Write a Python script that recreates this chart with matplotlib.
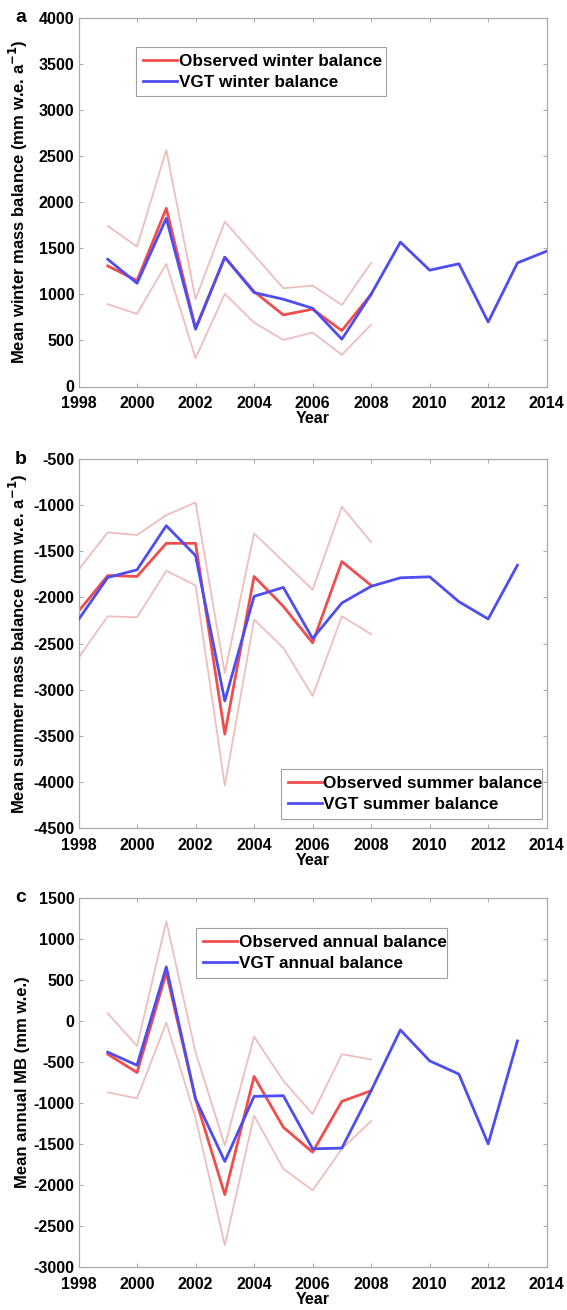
import matplotlib
matplotlib.use("Agg")
import matplotlib.pyplot as plt
import numpy as np

plt.rcParams['font.family'] = ['Liberation Sans', 'DejaVu Sans']
plt.rcParams['font.weight'] = 'bold'
plt.rcParams['axes.unicode_minus'] = False
plt.rcParams['mathtext.default'] = 'bf'

# ---------- Data ----------
years_obs = [1999, 2000, 2001, 2002, 2003, 2004, 2005, 2006, 2007, 2008]
years_vgt_a = [1999, 2000, 2001, 2002, 2003, 2004, 2005, 2006, 2007, 2008,
               2009, 2010, 2011, 2012, 2013, 2014]
winter_obs = [1307, 1148, 1931, 632, 1401, 1029, 776, 838, 606, 1000]
winter_upper = [1740, 1516, 2563, 946, 1787, 1426, 1065, 1094, 884, 1340]
winter_lower = [892, 787, 1329, 307, 1004, 693, 505, 585, 343, 670]
winter_vgt = [1379, 1119, 1823, 621, 1401, 1018, 946, 848, 513, 1000,
              1565, 1261, 1330, 699, 1340, 1467]

years_obs_b = [1998, 1999, 2000, 2001, 2002, 2003, 2004, 2005, 2006, 2007, 2008]
years_vgt_b = [1998, 1999, 2000, 2001, 2002, 2003, 2004, 2005, 2006, 2007, 2008,
               2009, 2010, 2011, 2012, 2013]
summer_obs = [-2151, -1763, -1773, -1414, -1414, -3482, -1773, -2097, -2493, -1612, -1870]
summer_upper = [-1701, -1295, -1324, -1108, -971, -2820, -1306, -1612, -1917, -1018, -1400]
summer_lower = [-2655, -2205, -2216, -1712, -1870, -4040, -2241, -2547, -3068, -2205, -2399]
summer_vgt = [-2241, -1784, -1701, -1223, -1547, -3122, -1989, -1892, -2446, -2061, -1880,
              -1788, -1777, -2047, -2234, -1651]

years_vgt_c = [1999, 2000, 2001, 2002, 2003, 2004, 2005, 2006, 2007, 2008,
               2009, 2010, 2011, 2012, 2013]
annual_obs = [-405, -628, 587, -951, -2117, -676, -1296, -1599, -980, -850]
annual_upper = [93, -304, 1215, -380, -1518, -190, -729, -1134, -405, -470]
annual_lower = [-870, -943, -20, -1180, -2733, -1154, -1802, -2065, -1560, -1220]
annual_vgt = [-380, -540, 660, -950, -1713, -919, -911, -1559, -1550, -850,
              -109, -486, -648, -1498, -243]

labels_a = ["Observed winter balance", "VGT winter balance"]
labels_b = ["Observed summer balance", "VGT summer balance"]
labels_c = ["Observed annual balance", "VGT annual balance"]

# ---------- Style ----------
RED = (0.94, 0.30, 0.30)
BLUE = (0.30, 0.30, 0.94)
PINK = (0.94, 0.74, 0.74)

W, H = 567, 1310
fig = plt.figure(figsize=(W / 100, H / 100), dpi=100)

def axpos(top_px, bottom_px, left_px=78.5, right_px=546.7):
    return [left_px / W, 1 - bottom_px / H, (right_px - left_px) / W, (bottom_px - top_px) / H]

panels = [
    dict(pos=axpos(17.5, 386.5), yr=(0, 4000), ylabel='Mean winter mass balance (mm w.e. a$^{-1}$)',
         xo=years_obs, obs=winter_obs, up=winter_upper, lo=winter_lower,
         xv=years_vgt_a, vgt=winter_vgt, labels=labels_a,
         leg=(0.123, 0.786, 0.534, 0.133), tag='a'),
    dict(pos=axpos(459, 828), yr=(-4500, -500), ylabel='Mean summer mass balance (mm w.e. a$^{-1}$)',
         xo=years_obs_b, obs=summer_obs, up=summer_upper, lo=summer_lower,
         xv=years_vgt_b, vgt=summer_vgt, labels=labels_b,
         leg=(0.432, 0.024, 0.559, 0.108), tag='b'),
    dict(pos=axpos(898, 1267), yr=(-3000, 1500), ylabel='Mean annual MB (mm w.e.)',
         xo=years_obs, obs=annual_obs, up=annual_upper, lo=annual_lower,
         xv=years_vgt_c, vgt=annual_vgt, labels=labels_c,
         leg=(0.251, 0.784, 0.537, 0.132), tag='c'),
]

for p in panels:
    ax = fig.add_axes(p['pos'])
    ax.plot(p['xo'], p['up'], color=PINK, lw=1.3, zorder=1)
    ax.plot(p['xo'], p['lo'], color=PINK, lw=1.3, zorder=1)
    l1, = ax.plot(p['xo'], p['obs'], color=RED, lw=2.0, zorder=2)
    l2, = ax.plot(p['xv'], p['vgt'], color=BLUE, lw=2.0, zorder=3)
    ax.set_xlim(1998, 2014)
    ax.set_ylim(*p['yr'])
    ax.set_xticks(np.arange(1998, 2015, 2))
    ax.set_yticks(np.arange(p['yr'][0], p['yr'][1] + 1, 500))
    ax.tick_params(direction='in', top=True, right=True, length=3, width=0.6,
                   color='#999999', labelsize=11.5)
    ax.tick_params(axis='x', pad=7)
    ax.tick_params(axis='y', pad=3)
    for lab in ax.get_xticklabels() + ax.get_yticklabels():
        lab.set_fontweight('bold')
    for s in ax.spines.values():
        s.set_color('#aaaaaa')
        s.set_linewidth(0.9)
    ax.set_xlabel('Year', fontsize=11.5, fontweight='bold', labelpad=0)
    ax.set_ylabel(p['ylabel'], fontsize=12, fontweight='bold')
    ax.yaxis.set_label_coords(-0.104, 0.5)
    leg = ax.legend([l1, l2], p['labels'], loc='lower left', bbox_to_anchor=p['leg'],
                    mode='expand', frameon=True, fancybox=False, edgecolor='#888888',
                    prop={'weight': 'bold', 'size': 12.3}, handlelength=2.0,
                    handletextpad=0.1, borderpad=0.4, labelspacing=0.35, borderaxespad=0)
    leg.get_frame().set_linewidth(0.8)
    ax.text(-0.123, 1.0, p['tag'], transform=ax.transAxes, fontsize=14,
            fontweight='bold', ha='center', va='center')

fig.savefig('out.png', dpi=100)
